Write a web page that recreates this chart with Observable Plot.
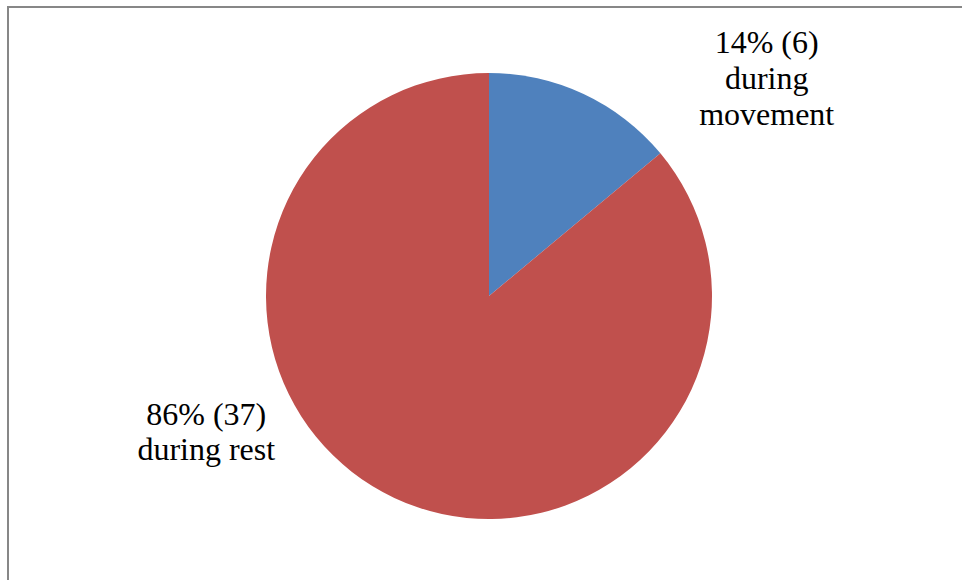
<!DOCTYPE html>
<html>
<head>
<meta charset="utf-8">
<script src="https://cdn.jsdelivr.net/npm/d3@7"></script>
<script src="https://cdn.jsdelivr.net/npm/@observablehq/plot@0.6"></script>
<style>
  html, body { margin: 0; padding: 0; background: #fff; }
  #wrap { position: relative; width: 962px; height: 580px; overflow: hidden; }
  #border { position: absolute; left: 7px; top: 6px; right: -10px; bottom: -10px;
            border-left: 2px solid #878787; border-top: 2px solid #878787; pointer-events: none; }
</style>
</head>
<body>
<div id="wrap"><div id="border"></div></div>
<script>
// Data
const categories = ["during movement", "during rest"];
const counts = [6, 37];
const percents = [14, 86];
const colors = ["#4F81BD", "#C0504D"];

// Layout (pie radius units, centre at 0,0, y up)
const labelPos = [[1.243, 0.983], [-1.27, -0.603]];

const data = categories.map((c, i) => ({
  name: c, count: counts[i], pct: percents[i], color: colors[i],
  label: `${percents[i]}% (${counts[i]})\n${c.replace("during ", "during\n").replace("during\nrest", "during rest")}`,
  lx: labelPos[i][0], ly: labelPos[i][1]
}));

const R = 223, CX = 489, CY = 296, W = 962, H = 580;

function pieMark(index, scales, values, dims) {
  const cx = scales.x(0), cy = scales.y(0);
  const r = Math.abs(scales.x(1) - scales.x(0));
  const arcs = d3.pie().sort(null).value(d => d.count)(data);
  const g = d3.create("svg:g").attr("transform", `translate(${cx},${cy})`);
  g.selectAll("path").data(arcs).join("path")
    .attr("d", d3.arc().innerRadius(0).outerRadius(r))
    .attr("fill", d => d.data.color);
  return g.node();
}

const chart = Plot.plot({
  width: W, height: H, margin: 0,
  x: {domain: [-CX / R, (W - CX) / R], axis: null},
  y: {domain: [-(H - CY) / R, CY / R], axis: null},
  marks: [
    pieMark,
    Plot.text(data, {
      x: "lx", y: "ly", text: "label",
      fontFamily: "Liberation Serif, Times New Roman, serif",
      fontSize: 32, lineHeight: 1.125, fill: "#000", textAnchor: "middle"
    })
  ]
});
chart.style.position = "absolute";
chart.style.left = "0"; chart.style.top = "0";
chart.style.background = "transparent";
document.getElementById("wrap").prepend(chart);
</script>
</body>
</html>
